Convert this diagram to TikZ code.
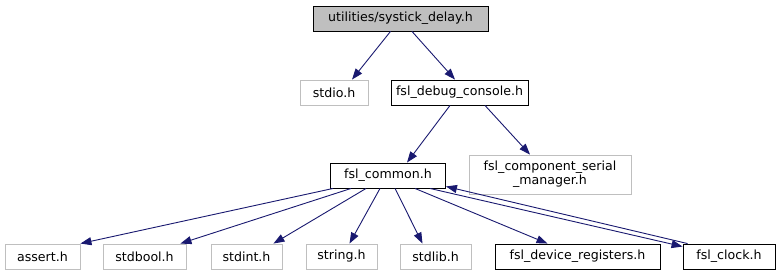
\documentclass[tikz,border=0pt]{standalone}
\usepackage{fontspec}
\setmainfont{DejaVu Sans}
\usetikzlibrary{arrows.meta}
\definecolor{edgeblue}{HTML}{191970}
\definecolor{boxgray}{HTML}{BFBFBF}
\begin{document}
\begin{tikzpicture}[x=1pt,y=-1pt,
  file/.style={draw=black,line width=0.9pt,minimum height=25pt,inner sep=0pt,
    font=\fontsize{12.6}{14}\selectfont,align=center},
  extfile/.style={file,draw=boxgray},
  mainfile/.style={file,fill=boxgray},
  edge/.style={draw=edgeblue,line width=0.9pt,-{Triangle[length=11pt,width=8pt]}}]
\useasboundingbox[fill=white] (0,0) rectangle (780,276);

% header files
\node[mainfile,minimum width=175pt] (top) at (400.5,18.5) {utilities/systick\_delay.h};
\node[extfile,minimum width=68pt] (stdio) at (334,92.5) {stdio.h};
\node[file,minimum width=137pt] (debug) at (459.5,92.5) {fsl\_debug\_console.h};
\node[file,minimum width=115pt] (common) at (388,175.5) {fsl\_common.h};
\node[extfile,minimum width=162pt,minimum height=39pt] (serial) at (550,174.5)
  {fsl\_component\_serial\\\_manager.h};
\node[extfile,minimum width=75pt] (assert) at (42.5,256.5) {assert.h};
\node[extfile,minimum width=83pt] (stdbool) at (144.5,256.5) {stdbool.h};
\node[extfile,minimum width=71pt] (stdint) at (246.5,256.5) {stdint.h};
\node[extfile,minimum width=71pt] (string) at (341.5,256.5) {string.h};
\node[extfile,minimum width=71pt] (stdlib) at (435.5,256.5) {stdlib.h};
\node[file,minimum width=165pt] (devreg) at (577.5,256.5) {fsl\_device\_registers.h};
\node[file,minimum width=92pt] (clock) at (729,256.5) {fsl\_clock.h};

% include edges
\draw[edge] ([xshift=-10pt]top.south) -- ([xshift=18pt]stdio.north);
\draw[edge] ([xshift=11.5pt]top.south) -- ([xshift=-4.5pt]debug.north);
\draw[edge] ([xshift=-9.5pt]debug.south) -- ([xshift=19pt]common.north);
\draw[edge] ([xshift=25.5pt]debug.south) -- ([xshift=-20pt]serial.north);
\draw[edge] ([xshift=3pt]common.south west) -- (assert.north east);
\draw[edge] ([xshift=21pt]common.south west) -- ([xshift=-6pt]stdbool.north east);
\draw[edge] ([xshift=36pt]common.south west) -- ([xshift=-9pt]stdint.north east);
\draw[edge] ([xshift=-8pt]common.south) -- ([xshift=8pt]string.north);
\draw[edge] ([xshift=7pt]common.south) -- ([xshift=-13pt]stdlib.north);
\draw[edge] ([xshift=27pt]common.south) -- ([xshift=-30pt]devreg.north);
\draw[edge] ([xshift=-16pt]common.south east) -- ([yshift=-3pt]clock.north west);
\draw[edge] ([xshift=5pt]clock.north west) -- ([yshift=2pt]common.south east);
\end{tikzpicture}
\end{document}
